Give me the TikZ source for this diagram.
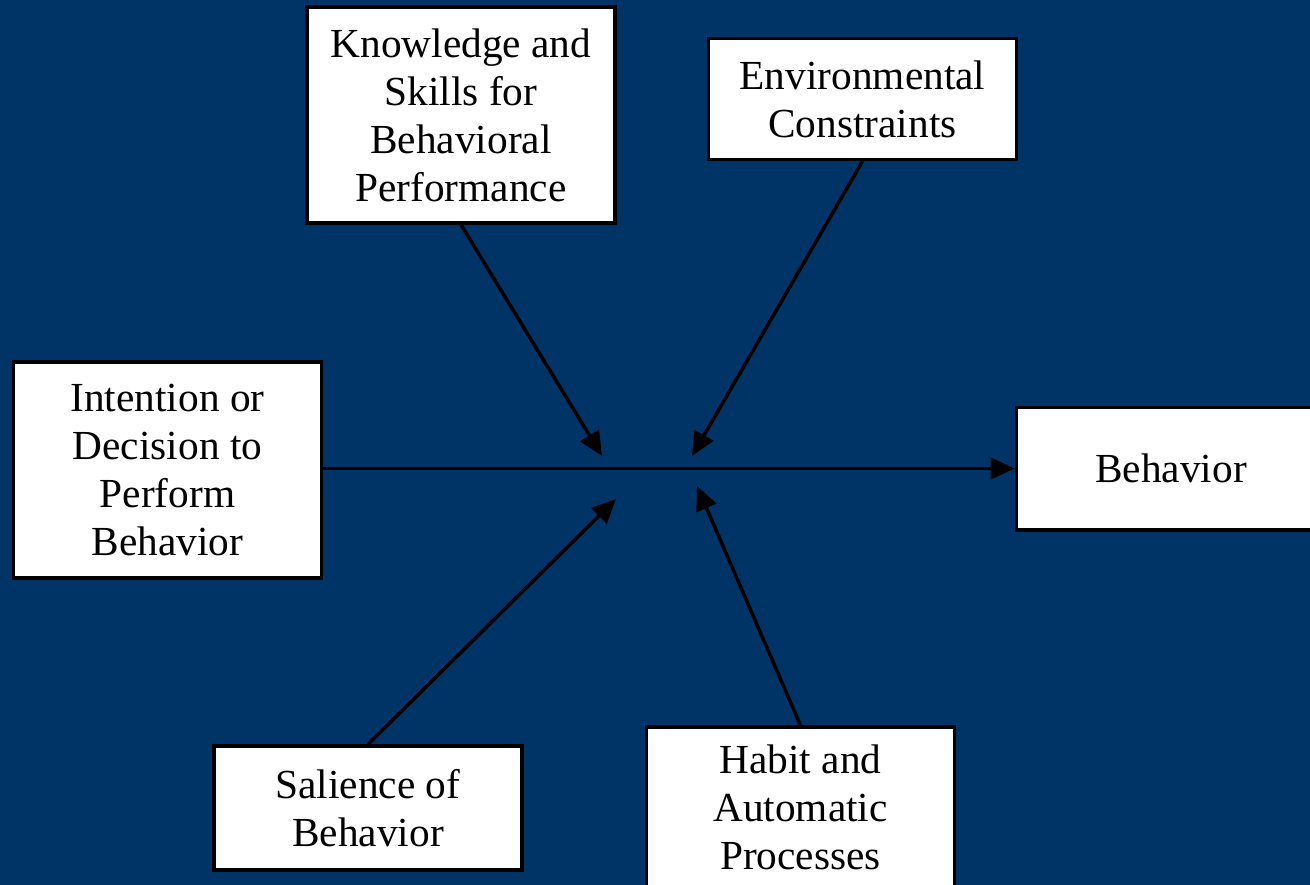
\documentclass[tikz,border=0pt]{standalone}
\usepackage{fontspec}
\setmainfont{Liberation Serif}
\usetikzlibrary{arrows.meta}
\definecolor{bg}{RGB}{0,51,102}
\tikzset{
  box/.style={draw=black, fill=white, line width=2.5pt, inner sep=0pt, align=center,
    font=\fontsize{31}{36}\selectfont},
  conn/.style={line width=2.6pt, -{Triangle[length=18pt,width=16pt]}}
}
\begin{document}
\begin{tikzpicture}[x=0.75pt,y=-0.75pt]
\useasboundingbox (0,0) rectangle (1310,885);
\fill[bg] (0,0) rectangle (1310,885);
\begin{scope}
\clip (0,0) rectangle (1310,885);
\node[box, minimum width=231pt, minimum height=162pt] (know) at (461,115) {Knowledge and\\Skills for\\Behavioral\\Performance};
\node[box, minimum width=231pt, minimum height=91pt] (env) at (862.5,99) {Environmental\\Constraints};
\node[box, minimum width=231pt, minimum height=162pt] (int) at (167.5,470) {Intention or\\Decision to\\Perform\\Behavior};
\node[box, minimum width=232pt, minimum height=92pt] (beh) at (1171,468.5) {Behavior};
\node[box, minimum width=231pt, minimum height=93pt] (sal) at (368,808) {Salience of\\Behavior};
\node[box, minimum width=231pt, minimum height=120pt] (hab) at (800.5,807) {Habit and\\Automatic\\Processes};
\end{scope}
\coordinate (kend) at (602,456);
\coordinate (eend) at (692,456);
\coordinate (send) at (616,499);
\coordinate (hend) at (697,486);
\draw[conn] (int.east |- beh.west) -- (beh.west);
\draw[conn] (know.south) -- (kend);
\draw[conn] (env.south) -- (eend);
\draw[conn] (sal.north) -- (send);
\draw[conn] (hab.north) -- (hend);
\end{tikzpicture}
\end{document}
